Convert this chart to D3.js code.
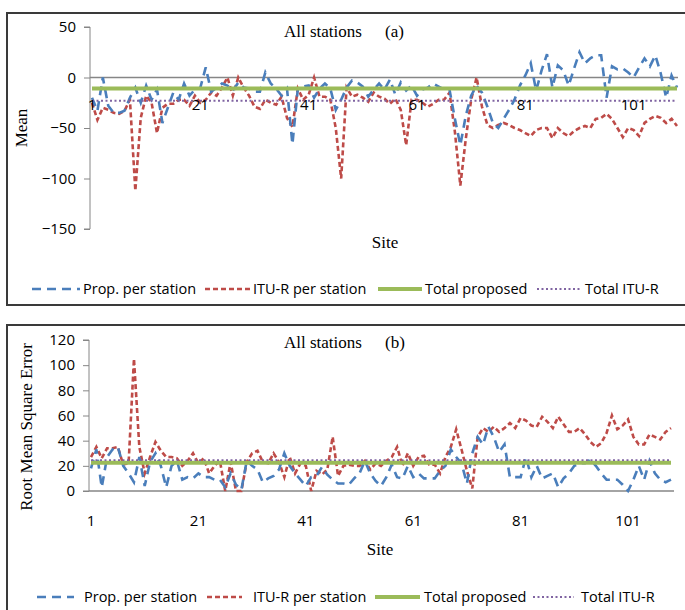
<!DOCTYPE html>
<html><head><meta charset="utf-8">
<script src="https://cdn.jsdelivr.net/npm/d3@7"></script>
<style>body{margin:0;background:#fff}svg{display:block}</style>
</head><body>
<script>
// ---- data ----
const sites = d3.range(1, 110);
const xTickLabels = [1, 21, 41, 61, 81, 101];
const meanTicks = [50, 0, -50, -100, -150];
const rmseTicks = [0, 20, 40, 60, 80, 100, 120];

const meanProp = [-20,-33,0,-28,-35,-35,-33,-20,-10,-25,-8,-22,-12,-45,-30,-15,-22,-6,-18,-12,
 -10,10,-14,-10,-6,-8,-13,-5,-10,-11,-14,-14,5,-6,-11,-18,-11,-66,-11,-9,
 -8,-20,-11,-6,-11,-32,-22,-10,-3,-5,-9,-19,-12,-6,-12,-2,-17,-5,-13,-8,
 -18,-12,-10,-6,-9,-12,-12,-41,-67,-38,-18,-8,-15,-29,-45,-50,-41,-32,-22,-8,
 2,14,-13,7,23,-10,12,7,-8,9,25,14,19,22,22,-20,11,8,9,5,
 0,10,19,11,22,4,-20,2,-10];
const meanITU = [-25,-42,-30,-32,-35,-36,-33,-22,-112,-40,-18,-25,-55,-30,-26,-26,-22,-22,-28,-18,
 -25,-22,-15,-18,-10,0,-18,0,-10,-18,-29,-31,-22,-25,-27,-19,-40,-49,-11,-22,
 -17,0,-19,-19,-22,-50,-100,-10,-19,-17,-20,-24,-15,-19,-21,-26,-21,-32,-67,-22,
 -22,-25,-29,-26,-22,-22,-15,-54,-107,-61,-22,0,-29,-47,-50,-47,-45,-47,-50,-52,
 -55,-58,-52,-50,-50,-60,-50,-55,-58,-53,-50,-48,-50,-41,-40,-36,-41,-50,-59,-50,
 -52,-58,-45,-41,-38,-40,-45,-41,-48];
const meanTotalProp = -11;
const meanTotalITU = -23;

const rmseProp = [18,33,3,27,33,35,20,14,7,27,4,23,30,20,3,20,24,9,11,10,
 14,11,11,9,9,3,14,5,1,24,20,17,7,10,12,17,30,20,14,9,
 4,11,12,19,13,9,6,6,5,10,14,24,14,8,4,11,21,11,10,20,
 11,14,10,10,10,16,20,33,27,22,6,30,43,37,51,43,31,37,11,11,
 11,27,11,20,10,12,14,3,10,14,20,22,22,25,20,14,9,9,9,5,
 0,9,20,9,24,14,9,7,9];
const rmseITU = [27,35,26,34,34,35,21,22,105,35,14,27,39,32,27,27,26,20,24,30,
 22,26,14,20,24,0,23,0,0,23,30,32,23,22,30,23,11,27,14,22,
 20,0,16,13,17,43,12,20,21,20,20,24,17,22,20,24,27,35,20,30,
 20,27,28,21,21,14,27,35,49,33,16,2,43,50,47,51,47,50,54,50,
 58,56,52,51,59,55,50,59,53,47,47,50,45,39,35,38,46,60,49,52,
 57,43,37,37,45,43,41,47,50];
const rmseTotalProp = 22.5;
const rmseTotalITU = 24.5;

const legendNames = ["Prop. per station", "ITU-R per station", "Total proposed", "Total ITU-R"];

// ---- styles ----
const C = {blue:"#4a7ebb", red:"#be4b48", green:"#9bbb59", purple:"#8064a2", axis:"#868686"};
const sansF = "'Open Sans', 'Liberation Sans', sans-serif";
const serifF = "'Liberation Serif', 'DejaVu Serif', serif";

const svg = d3.select("body").append("svg").attr("width", 685).attr("height", 610);

function panel(cfg) {
  const g = svg.append("g");
  g.append("rect").attr("x", 7).attr("y", cfg.top).attr("width", 690).attr("height", cfg.h)
    .attr("fill", "#fff").attr("stroke", "#3a3a3a").attr("stroke-width", 2);

  const x = d3.scaleLinear().domain([1, sites.length]).range(cfg.xr);
  const y = d3.scaleLinear().domain(cfg.ydom).range(cfg.yr);

  // y axis
  const ya = d3.axisLeft(y).tickValues(cfg.yticks).tickSize(6).tickPadding(8);
  const yg = g.append("g").attr("transform", `translate(${cfg.xr[0]-2},0)`).call(ya);
  yg.select(".domain").attr("stroke", C.axis).attr("d", `M-6,${cfg.yr[1]}H0V${cfg.yr[0]}H-6`);
  yg.selectAll(".tick line").attr("stroke", C.axis);
  yg.selectAll("text").attr("font-family", sansF).attr("font-size", 15).attr("fill", "#000");

  // x baseline (value 0)
  g.append("line").attr("x1", cfg.xr[0]-2).attr("x2", cfg.axisEnd)
    .attr("y1", y(0)).attr("y2", y(0)).attr("stroke", C.axis).attr("stroke-width", 1.3);

  const line = d3.line().x((d, i) => x(sites[i])).y(d => y(d));
  g.append("path").datum(cfg.itu).attr("d", line).attr("fill", "none")
    .attr("stroke", C.red).attr("stroke-width", 2.6).attr("stroke-dasharray", "5,3");
  g.append("path").datum(cfg.prop).attr("d", line).attr("fill", "none")
    .attr("stroke", C.blue).attr("stroke-width", 2.6).attr("stroke-dasharray", "9,6");
  g.append("path").datum(sites.map(() => cfg.totProp)).attr("d", line).attr("fill", "none")
    .attr("stroke", C.green).attr("stroke-width", 4);
  g.append("path").datum(sites.map(() => cfg.totITU)).attr("d", line).attr("fill", "none")
    .attr("stroke", C.purple).attr("stroke-width", 1.8).attr("stroke-dasharray", "2,2.5");

  // x tick labels
  g.selectAll(".xl").data(xTickLabels).enter().append("text")
    .attr("x", d => x(d)).attr("y", cfg.xlabY).attr("text-anchor", "middle")
    .attr("font-family", sansF).attr("font-size", 15).attr("fill", "#000").text(d => d);

  // titles
  g.append("text").attr("x", 284).attr("y", cfg.titleY).attr("font-family", serifF)
    .attr("font-size", 17).text("All stations");
  g.append("text").attr("x", 385).attr("y", cfg.titleY).attr("font-family", serifF)
    .attr("font-size", 17).text(cfg.tag);
  g.append("text").attr("x", cfg.siteX).attr("y", cfg.siteY).attr("text-anchor", "middle")
    .attr("font-family", serifF).attr("font-size", 17).text("Site");
  g.append("text").attr("transform", `translate(${cfg.ytX},${cfg.ytY}) rotate(-90)`)
    .attr("text-anchor", "middle").attr("font-family", serifF).attr("font-size", 17).text(cfg.ytitle);

  // legend
  const styles = [
    {c: C.blue, w: 2.6, da: "9,6"}, {c: C.red, w: 2.6, da: "5,3"},
    {c: C.green, w: 4, da: null}, {c: C.purple, w: 1.8, da: "2,2.5"}];
  cfg.leg.forEach((p, i) => {
    g.append("line").attr("x1", p[0]).attr("x2", p[1]).attr("y1", cfg.legY).attr("y2", cfg.legY)
      .attr("stroke", styles[i].c).attr("stroke-width", styles[i].w)
      .attr("stroke-dasharray", styles[i].da);
    g.append("text").attr("x", p[2]).attr("y", cfg.legY + 5).attr("font-family", sansF)
      .attr("font-size", 14.5).attr("fill", "#000").text(legendNames[i]);
  });
}

panel({top: 13, h: 292, xr: [92, 677], axisEnd: 678, ydom: [-150, 50], yr: [229, 27],
  yticks: meanTicks, prop: meanProp, itu: meanITU, totProp: meanTotalProp, totITU: meanTotalITU,
  xlabY: 110, titleY: 37, tag: "(a)", siteX: 385, siteY: 248, ytX: 27, ytY: 128, ytitle: "Mean",
  legY: 289, leg: [[32, 80, 83], [205, 250, 253], [378, 422, 425], [537, 580, 585]]});

panel({top: 325, h: 300, xr: [91, 671], axisEnd: 674, ydom: [0, 120], yr: [491, 340],
  yticks: rmseTicks, prop: rmseProp, itu: rmseITU, totProp: rmseTotalProp, totITU: rmseTotalITU,
  xlabY: 526, titleY: 348, tag: "(b)", siteX: 380, siteY: 555, ytX: 32, ytY: 427, ytitle: "Root Mean Square Error",
  legY: 597, leg: [[37, 74, 84], [207, 242, 253], [375, 420, 424], [533, 574, 581]]});
</script>
</body></html>
